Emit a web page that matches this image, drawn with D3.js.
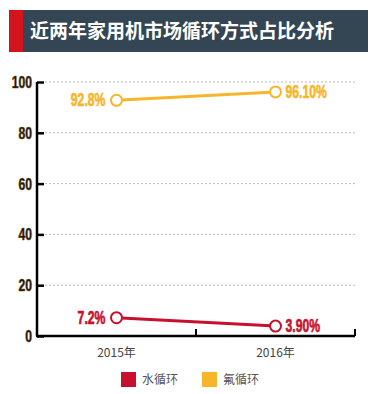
<!DOCTYPE html>
<html><head><meta charset="utf-8">
<script src="https://cdn.jsdelivr.net/npm/d3@7"></script>
<style>body{margin:0;background:#fff;}svg{display:block;}</style>
</head><body>
<script>
const title = "近两年家用机市场循环方式占比分析";
const years = ["2015年", "2016年"];
const seriesNames = ["水循环", "氟循环"];
const waterValues = [7.2, 3.9];
const fluorValues = [92.8, 96.1];
const waterLabels = ["7.2%", "3.90%"];
const fluorLabels = ["92.8%", "96.10%"];
const yTicks = [0, 20, 40, 60, 80, 100];

const W = 383, H = 394;
const red = "#c8102e", orange = "#f7b52c";
const numFont = "'Liberation Sans', Arial, sans-serif";
const svg = d3.select("body").append("svg").attr("width", W).attr("height", H);

// title banner
svg.append("rect").attr("x", 9).attr("y", 10).attr("width", 359).attr("height", 42).attr("fill", "#344553");
svg.append("rect").attr("x", 9).attr("y", 10).attr("width", 14).attr("height", 42).attr("fill", "#d2141c");
svg.append("text").attr("x", 30).attr("y", 38).text(title)
  .attr("fill", "#fff").attr("font-size", 19).attr("font-weight", "bold")
  .attr("font-family", "'Noto Sans CJK SC', sans-serif");

const x = d3.scaleBand().domain(years).range([37, 355]);
const y = d3.scaleLinear().domain([0, 100]).range([336, 82]);

// gridlines
svg.append("g").selectAll("line").data(yTicks.filter(d => d > 0)).join("line")
  .attr("x1", 45).attr("x2", 355).attr("y1", d => y(d)).attr("y2", d => y(d))
  .attr("stroke", "#bbb").attr("stroke-width", 1).attr("stroke-dasharray", "2,2");

// y axis
const ya = svg.append("g").attr("transform", "translate(37,0)")
  .call(d3.axisRight(y).tickValues(yTicks).tickSize(7).tickFormat(""));
ya.select(".domain").attr("stroke", "#000").attr("stroke-width", 2.5).attr("d", `M0,${y(100)}V${y(0)}`);
ya.selectAll(".tick line").attr("stroke", "#000").attr("stroke-width", 2.5);
svg.append("g").selectAll("text").data(yTicks).join("text")
  .attr("transform", d => `translate(32,${y(d) + 6}) scale(0.76,1.05)`)
  .attr("text-anchor", "end")
  .text(d => d).attr("font-size", 16).attr("font-weight", "bold")
  .attr("font-family", numFont)
  .attr("fill", "#111").attr("stroke", "#6b4a10").attr("stroke-width", 0.6);

// x axis
const xa = svg.append("g").attr("transform", "translate(0,336)")
  .call(d3.axisBottom(x).tickSize(0).tickPadding(12));
xa.select(".domain").attr("stroke", "#000").attr("stroke-width", 2.5).attr("d", "M36,0H355");
xa.selectAll(".tick text").attr("font-size", 12).attr("fill", "#444")
  .attr("font-family", "'Noto Sans CJK SC', sans-serif");
// x tick marks (boundaries) going up
svg.append("g").selectAll("line").data([x(years[1]), x.range()[1]]).join("line")
  .attr("x1", d => d).attr("x2", d => d).attr("y1", 336).attr("y2", 329)
  .attr("stroke", "#000").attr("stroke-width", 2);

const cx = d => x(d) + x.bandwidth() / 2;
const line = d3.line().x((d, i) => cx(years[i])).y(d => y(d));

function drawSeries(values, labels, color) {
  svg.append("path").datum(values).attr("d", line)
    .attr("fill", "none").attr("stroke", color).attr("stroke-width", 3);
  svg.append("g").selectAll("circle").data(values).join("circle")
    .attr("cx", (d, i) => cx(years[i])).attr("cy", d => y(d)).attr("r", 5.5)
    .attr("fill", "#fff").attr("stroke", color).attr("stroke-width", 2);
  svg.append("g").selectAll("text").data(values).join("text")
    .attr("transform", (d, i) => `translate(${i === 0 ? cx(years[i]) - 11 : cx(years[i]) + 10},${y(d) + 6}) scale(0.72,1.05)`)
    .attr("text-anchor", (d, i) => i === 0 ? "end" : "start")
    .text((d, i) => labels[i]).attr("fill", color)
    .attr("stroke", color).attr("stroke-width", 0.6)
    .attr("font-size", 17).attr("font-weight", "bold")
    .attr("font-family", numFont);
}
drawSeries(fluorValues, fluorLabels, orange);
drawSeries(waterValues, waterLabels, red);

// legend
const lg = svg.append("g");
const lx = [121, 202];
const colors = [red, orange];
seriesNames.forEach((n, i) => {
  lg.append("rect").attr("x", lx[i]).attr("y", 372).attr("width", 15).attr("height", 15).attr("fill", colors[i]);
  lg.append("text").attr("x", lx[i] + 21).attr("y", 384).text(n)
    .attr("font-size", 12).attr("fill", "#555")
    .attr("font-family", "'Noto Sans CJK SC', sans-serif");
});
</script>
</body></html>
